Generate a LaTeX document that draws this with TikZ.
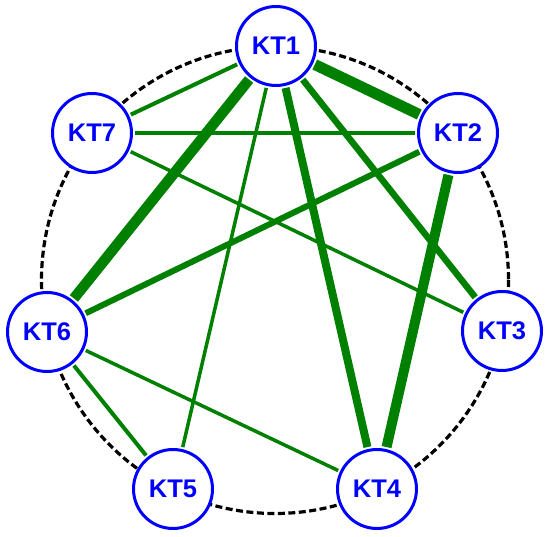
\documentclass[tikz,border=0pt]{standalone}
\usepackage{fontspec}
\setsansfont{Liberation Sans}
\definecolor{edgegreen}{RGB}{0,128,0}
\definecolor{nodeblue}{RGB}{0,0,255}
\begin{document}
\begin{tikzpicture}[x=1pt,y=-1pt,
  kt/.style={circle,draw=nodeblue,fill=white,line width=3pt,minimum size=79pt,inner sep=0pt,
    text=nodeblue,font=\sffamily\bfseries\fontsize{25.5}{25.5}\selectfont},
  ed/.style={draw=edgegreen,line cap=butt,shorten >=2pt,shorten <=2pt},
  ring/.style={draw=black,line width=3.2pt,dash pattern=on 7pt off 3.5pt}]
\useasboundingbox (0,0) rectangle (550,537);
\draw[ring] (275,280) circle[radius=233.5];
\node[kt] (k1) at (276,46) {KT1};
\node[kt] (k2) at (458,133) {KT2};
\node[kt] (k3) at (502,331) {KT3};
\node[kt] (k4) at (377,489) {KT4};
\node[kt] (k5) at (173,489) {KT5};
\node[kt] (k6) at (47,332) {KT6};
\node[kt] (k7) at (92,133) {KT7};
\draw[ed,line width=11pt] (k1) -- (k2);
\draw[ed,line width=4pt] (k1) -- (k7);
\draw[ed,line width=10.5pt] (k1) -- (k6);
\draw[ed,line width=3.5pt] (k1) -- (k5);
\draw[ed,line width=8pt] (k1) -- (k4);
\draw[ed,line width=6.5pt] (k1) -- (k3);
\draw[ed,line width=4pt] (k7) -- (k2);
\draw[ed,line width=3.5pt] (k7) -- (k3);
\draw[ed,line width=6pt] (k2) -- (k6);
\draw[ed,line width=10pt] (k2) -- (k4);
\draw[ed,line width=4pt] (k6) -- (k5);
\draw[ed,line width=3.5pt] (k6) -- (k4);
\end{tikzpicture}
\end{document}
